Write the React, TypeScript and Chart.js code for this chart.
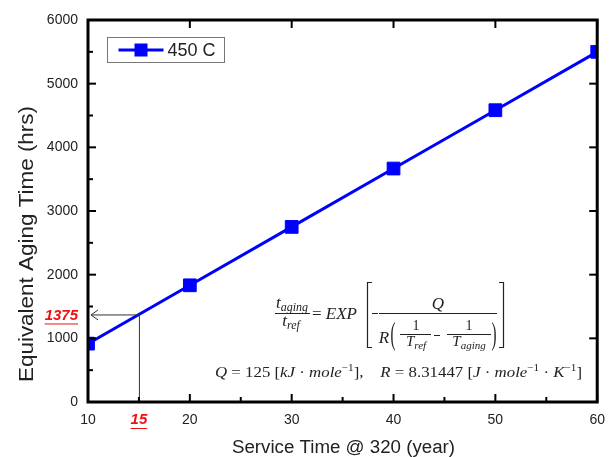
import React, { useEffect, useRef } from "react";
import { Chart, registerables } from "chart.js";

Chart.register(...registerables);

// ---- data ----
const serviceYears = [10, 20, 30, 40, 50, 60];
const agingHours = [917, 1833, 2750, 3667, 4583, 5500];
const seriesLabel = "450 C";
const readYear = 15;
const readHours = 1375;
const xTitle = "Service Time @ 320 (year)";
const yTitle = "Equivalent Aging Time (hrs)";
const xMin = 10, xMax = 60, xStep = 10, xMinorStep = 5;
const yMin = 0, yMax = 6000, yStep = 1000, yMinorStep = 500;

const SANS = 'Arial, "Liberation Sans", sans-serif';
const SERIF = '"Liberation Serif", "DejaVu Serif", serif';
const BLUE = "#0000ff";
const RED = "#ee1111";
const INK = "#222";

type Run = { t: string; size: number; it?: boolean; dy?: number };

function runFont(r: Run) {
  return `${r.it ? "italic " : ""}${r.size}px ${SERIF}`;
}
function runsWidth(ctx: CanvasRenderingContext2D, runs: Run[]) {
  let w = 0;
  for (const r of runs) {
    ctx.font = runFont(r);
    w += ctx.measureText(r.t).width;
  }
  return w;
}
function drawRuns(
  ctx: CanvasRenderingContext2D,
  runs: Run[],
  x: number,
  y: number,
  align: "left" | "center",
  fitWidth?: number
) {
  const w = runsWidth(ctx, runs);
  const sx = fitWidth ? fitWidth / w : 1;
  const start = align === "center" ? x - (w * sx) / 2 : x;
  ctx.save();
  ctx.translate(start, y);
  ctx.scale(sx, 1);
  ctx.textAlign = "left";
  ctx.textBaseline = "alphabetic";
  let cx = 0;
  for (const r of runs) {
    ctx.font = runFont(r);
    ctx.fillText(r.t, cx, r.dy || 0);
    cx += ctx.measureText(r.t).width;
  }
  ctx.restore();
}
function hline(ctx: CanvasRenderingContext2D, x1: number, x2: number, y: number) {
  ctx.beginPath();
  ctx.moveTo(x1, y);
  ctx.lineTo(x2, y);
  ctx.stroke();
}

const decorPlugin = {
  id: "decor",
  afterDatasetsDraw(chart: any) {
    const { ctx, chartArea: a, scales } = chart;
    const xs = scales.x;
    const ys = scales.y;
    ctx.save();

    // reading guide lines
    const px = xs.getPixelForValue(readYear);
    const py = ys.getPixelForValue(readHours);
    ctx.strokeStyle = "#333";
    ctx.lineWidth = 1;
    ctx.beginPath();
    ctx.moveTo(px + 0.5, py);
    ctx.lineTo(px + 0.5, a.bottom);
    ctx.stroke();
    ctx.beginPath();
    ctx.moveTo(px, py + 0.5);
    ctx.lineTo(a.left + 3, py + 0.5);
    ctx.stroke();
    ctx.beginPath();
    ctx.moveTo(a.left + 10, py - 4.5);
    ctx.lineTo(a.left + 3, py + 0.5);
    ctx.lineTo(a.left + 10, py + 5.5);
    ctx.stroke();

    // frame
    ctx.strokeStyle = "#000";
    ctx.lineWidth = 3;
    ctx.strokeRect(a.left, a.top, a.right - a.left, a.bottom - a.top);

    // inward ticks
    ctx.lineWidth = 2;
    for (let v = xMin; v <= xMax; v += xMinorStep) {
      const x = xs.getPixelForValue(v);
      const major = v % xStep === 0;
      const len = major ? 8 : 5;
      ctx.beginPath();
      ctx.moveTo(x, a.bottom);
      ctx.lineTo(x, a.bottom - len);
      ctx.stroke();
      if (major) {
        ctx.beginPath();
        ctx.moveTo(x, a.top);
        ctx.lineTo(x, a.top + len);
        ctx.stroke();
      }
    }
    for (let v = yMin; v <= yMax; v += yMinorStep) {
      const y = ys.getPixelForValue(v);
      const major = v % yStep === 0;
      const len = major ? 8 : 5;
      ctx.beginPath();
      ctx.moveTo(a.left, y);
      ctx.lineTo(a.left + len, y);
      ctx.stroke();
      if (major) {
        ctx.beginPath();
        ctx.moveTo(a.right, y);
        ctx.lineTo(a.right - len, y);
        ctx.stroke();
      }
    }

    // legend
    const lx = a.left + 19.5;
    const ly = a.top + 17.5;
    ctx.strokeStyle = "#777";
    ctx.lineWidth = 1;
    ctx.strokeRect(lx, ly, 117, 25);
    const lcy = ly + 12.5;
    ctx.strokeStyle = BLUE;
    ctx.lineWidth = 3;
    hline(ctx, lx + 11, lx + 56, lcy);
    ctx.fillStyle = BLUE;
    ctx.fillRect(lx + 27, lcy - 6.5, 13, 13);
    ctx.fillStyle = INK;
    ctx.font = `18px ${SANS}`;
    ctx.textAlign = "left";
    ctx.textBaseline = "middle";
    ctx.fillText(chart.data.datasets[0].label, lx + 60, lcy + 1);

    // red reading labels
    ctx.fillStyle = RED;
    ctx.strokeStyle = RED;
    ctx.lineWidth = 1;
    ctx.font = `italic bold 15px ${SANS}`;
    ctx.textAlign = "right";
    ctx.textBaseline = "middle";
    const lab1 = String(readHours);
    const w1 = ctx.measureText(lab1).width;
    ctx.fillText(lab1, a.left - 10, py + 1);
    hline(ctx, a.left - 10 - w1, a.left - 10, py + 9.5);
    ctx.textAlign = "center";
    const lab2 = String(readYear);
    const w2 = ctx.measureText(lab2).width;
    ctx.fillText(lab2, px, a.bottom + 18);
    hline(ctx, px - w2 / 2, px + w2 / 2, a.bottom + 26.5);

    // equation
    ctx.fillStyle = INK;
    ctx.strokeStyle = INK;
    ctx.lineWidth = 1;
    drawRuns(ctx, [{ t: "t", size: 17, it: true }, { t: "aging", size: 12, it: true, dy: 3 }], 292, 308, "center");
    hline(ctx, 275, 310, 313.5);
    drawRuns(ctx, [{ t: "t", size: 17, it: true }, { t: "ref", size: 12, it: true, dy: 3 }], 291, 326, "center");
    drawRuns(ctx, [{ t: "= ", size: 17 }, { t: "EXP", size: 17, it: true }], 312, 319, "left", 45);
    // brackets
    ctx.lineWidth = 1.2;
    ctx.beginPath();
    ctx.moveTo(372, 282.5);
    ctx.lineTo(367.5, 282.5);
    ctx.lineTo(367.5, 347.5);
    ctx.lineTo(372, 347.5);
    ctx.stroke();
    ctx.beginPath();
    ctx.moveTo(499, 282.5);
    ctx.lineTo(503.5, 282.5);
    ctx.lineTo(503.5, 347.5);
    ctx.lineTo(499, 347.5);
    ctx.stroke();
    ctx.lineWidth = 1;
    hline(ctx, 372, 378, 313.5);
    drawRuns(ctx, [{ t: "Q", size: 17, it: true }], 438, 309, "center");
    hline(ctx, 379, 497, 313.5);
    drawRuns(ctx, [{ t: "R", size: 17, it: true }], 384, 343, "center");
    drawRuns(ctx, [{ t: "(", size: 31 }], 393, 344, "center", 5);
    drawRuns(ctx, [{ t: ")", size: 31 }], 494, 344, "center", 5);
    drawRuns(ctx, [{ t: "1", size: 14 }], 416, 330, "center");
    hline(ctx, 400, 431, 334.5);
    drawRuns(ctx, [{ t: "T", size: 15, it: true }, { t: "ref", size: 11, it: true, dy: 3 }], 416, 346, "center");
    hline(ctx, 434, 440, 335.5);
    drawRuns(ctx, [{ t: "1", size: 14 }], 469, 330, "center");
    hline(ctx, 447, 491, 334.5);
    drawRuns(ctx, [{ t: "T", size: 15, it: true }, { t: "aging", size: 11, it: true, dy: 3 }], 469, 346, "center");

    drawRuns(
      ctx,
      [
        { t: "Q", size: 15, it: true },
        { t: " = 125 [", size: 15 },
        { t: "kJ", size: 15, it: true },
        { t: " · ", size: 15 },
        { t: "mole", size: 15, it: true },
        { t: "−1", size: 10, dy: -6 },
        { t: "],    ", size: 15 },
        { t: "R", size: 15, it: true },
        { t: " = 8.31447 [", size: 15 },
        { t: "J", size: 15, it: true },
        { t: " · ", size: 15 },
        { t: "mole", size: 15, it: true },
        { t: "−1", size: 10, dy: -6 },
        { t: " · ", size: 15 },
        { t: "K", size: 15, it: true },
        { t: "−1", size: 10, dy: -6 },
        { t: "]", size: 15 },
      ],
      215,
      377,
      "left",
      367
    );

    // axis titles
    ctx.fillStyle = INK;
    ctx.font = `20px ${SANS}`;
    ctx.textAlign = "center";
    ctx.textBaseline = "middle";
    const tw = ctx.measureText(yTitle).width;
    ctx.save();
    ctx.translate(27, 244);
    ctx.rotate(-Math.PI / 2);
    ctx.scale(276 / tw, 1);
    ctx.fillText(yTitle, 0, 0);
    ctx.restore();

    ctx.font = `18px ${SANS}`;
    ctx.textBaseline = "alphabetic";
    const bw = ctx.measureText(xTitle).width;
    ctx.save();
    ctx.translate(343.5, 453);
    ctx.scale(223 / bw, 1);
    ctx.fillText(xTitle, 0, 0);
    ctx.restore();

    ctx.restore();
  },
};

const plainTick = (v: any) => String(v);

export default function App() {
  const ref = useRef<HTMLCanvasElement | null>(null);
  useEffect(() => {
    if (!ref.current) return;
    const chart = new Chart(ref.current, {
      type: "line",
      data: {
        datasets: [
          {
            label: seriesLabel,
            data: serviceYears.map((x, i) => ({ x, y: agingHours[i] })),
            borderColor: BLUE,
            backgroundColor: BLUE,
            borderWidth: 3,
            pointStyle: "rect",
            pointRadius: 9,
            pointBorderWidth: 1,
            pointBackgroundColor: BLUE,
            pointBorderColor: BLUE,
            clip: 0,
            tension: 0,
          } as any,
        ],
      },
      options: {
        responsive: false,
        animation: false,
        devicePixelRatio: 1,
        layout: { padding: { top: 20, right: 13, left: 0, bottom: 0 } },
        plugins: { legend: { display: false }, tooltip: { enabled: false } },
        scales: {
          x: {
            type: "linear",
            min: xMin,
            max: xMax,
            ticks: { stepSize: xStep, padding: 10, color: INK, font: { family: SANS, size: 14 }, callback: plainTick },
            grid: { display: false, drawTicks: false },
            border: { display: false },
            afterFit: (s: any) => {
              s.height = 55;
            },
          },
          y: {
            type: "linear",
            min: yMin,
            max: yMax,
            ticks: { stepSize: yStep, padding: 10, color: INK, font: { family: SANS, size: 14 }, callback: plainTick },
            grid: { display: false, drawTicks: false },
            border: { display: false },
            afterFit: (s: any) => {
              s.width = 88;
            },
          },
        },
      } as any,
      plugins: [decorPlugin],
    });
    return () => chart.destroy();
  }, []);
  return (
    <div style={{ position: "fixed", left: 0, top: 0, width: 615, height: 457, background: "#fff" }}>
      <canvas ref={ref} width={615} height={457} style={{ display: "block" }} />
    </div>
  );
}
